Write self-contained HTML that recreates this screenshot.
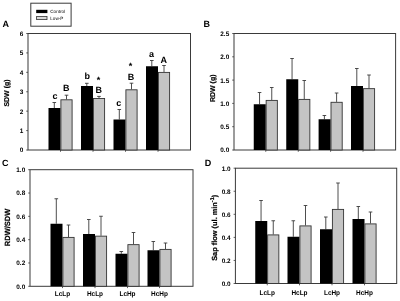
<!DOCTYPE html>
<html><head><meta charset="utf-8"><title>Figure</title>
<style>
html,body{margin:0;padding:0;background:#fff;}
body{width:400px;height:301px;overflow:hidden;font-family:'Liberation Sans', sans-serif;}
svg{display:block;font-family:'Liberation Sans',sans-serif;fill:#000;filter:blur(0.3px);text-rendering:geometricPrecision;}
</style></head><body>
<svg width="400" height="301" viewBox="0 0 400 301">
<rect width="400" height="301" fill="#fff"/>
<g id="panelA">
<rect x="28.0" y="33.5" width="162.50" height="116.50" fill="none" stroke="#3a3a3a" stroke-width="1"/>
<line x1="26.20" y1="150.00" x2="28.00" y2="150.00" stroke="#3a3a3a" stroke-width="0.8"/>
<text x="23.20" y="152.40" font-size="6.4" font-weight="bold" text-anchor="end">0</text>
<line x1="26.20" y1="130.58" x2="28.00" y2="130.58" stroke="#3a3a3a" stroke-width="0.8"/>
<text x="23.20" y="132.98" font-size="6.4" font-weight="bold" text-anchor="end">1</text>
<line x1="26.20" y1="111.17" x2="28.00" y2="111.17" stroke="#3a3a3a" stroke-width="0.8"/>
<text x="23.20" y="113.57" font-size="6.4" font-weight="bold" text-anchor="end">2</text>
<line x1="26.20" y1="91.75" x2="28.00" y2="91.75" stroke="#3a3a3a" stroke-width="0.8"/>
<text x="23.20" y="94.15" font-size="6.4" font-weight="bold" text-anchor="end">3</text>
<line x1="26.20" y1="72.33" x2="28.00" y2="72.33" stroke="#3a3a3a" stroke-width="0.8"/>
<text x="23.20" y="74.73" font-size="6.4" font-weight="bold" text-anchor="end">4</text>
<line x1="26.20" y1="52.92" x2="28.00" y2="52.92" stroke="#3a3a3a" stroke-width="0.8"/>
<text x="23.20" y="55.32" font-size="6.4" font-weight="bold" text-anchor="end">5</text>
<line x1="26.20" y1="33.50" x2="28.00" y2="33.50" stroke="#3a3a3a" stroke-width="0.8"/>
<text x="23.20" y="35.90" font-size="6.4" font-weight="bold" text-anchor="end">6</text>
<line x1="60.50" y1="150.00" x2="60.50" y2="151.80" stroke="#3a3a3a" stroke-width="0.8"/>
<line x1="93.00" y1="150.00" x2="93.00" y2="151.80" stroke="#3a3a3a" stroke-width="0.8"/>
<line x1="125.50" y1="150.00" x2="125.50" y2="151.80" stroke="#3a3a3a" stroke-width="0.8"/>
<line x1="158.00" y1="150.00" x2="158.00" y2="151.80" stroke="#3a3a3a" stroke-width="0.8"/>
<path d="M54.30 108.00V102.50M52.50 102.50H56.10" stroke="#3a3a3a" stroke-width="0.9" fill="none"/>
<path d="M66.50 99.40V95.20M64.70 95.20H68.30" stroke="#3a3a3a" stroke-width="0.9" fill="none"/>
<rect x="48.50" y="108.00" width="12.00" height="42.00" fill="#000"/>
<rect x="60.90" y="99.80" width="11.20" height="50.20" fill="#c4c4c4" stroke="#333333" stroke-width="0.9"/>
<path d="M86.80 86.00V83.30M85.00 83.30H88.60" stroke="#3a3a3a" stroke-width="0.9" fill="none"/>
<path d="M99.00 98.10V96.40M97.20 96.40H100.80" stroke="#3a3a3a" stroke-width="0.9" fill="none"/>
<rect x="81.00" y="86.00" width="12.00" height="64.00" fill="#000"/>
<rect x="93.40" y="98.50" width="11.20" height="51.50" fill="#c4c4c4" stroke="#333333" stroke-width="0.9"/>
<path d="M119.30 119.50V109.50M117.50 109.50H121.10" stroke="#3a3a3a" stroke-width="0.9" fill="none"/>
<path d="M131.50 89.40V83.20M129.70 83.20H133.30" stroke="#3a3a3a" stroke-width="0.9" fill="none"/>
<rect x="113.50" y="119.50" width="12.00" height="30.50" fill="#000"/>
<rect x="125.90" y="89.80" width="11.20" height="60.20" fill="#c4c4c4" stroke="#333333" stroke-width="0.9"/>
<path d="M151.80 66.25V60.50M150.00 60.50H153.60" stroke="#3a3a3a" stroke-width="0.9" fill="none"/>
<path d="M164.00 72.00V65.50M162.20 65.50H165.80" stroke="#3a3a3a" stroke-width="0.9" fill="none"/>
<rect x="146.00" y="66.25" width="12.00" height="83.75" fill="#000"/>
<rect x="158.40" y="72.40" width="11.20" height="77.60" fill="#c4c4c4" stroke="#333333" stroke-width="0.9"/>
</g>
<g id="panelB">
<rect x="234.0" y="33.5" width="161.60" height="116.50" fill="none" stroke="#3a3a3a" stroke-width="1"/>
<line x1="232.20" y1="150.00" x2="234.00" y2="150.00" stroke="#3a3a3a" stroke-width="0.8"/>
<text x="229.20" y="152.40" font-size="6.4" font-weight="bold" text-anchor="end">0.0</text>
<line x1="232.20" y1="126.70" x2="234.00" y2="126.70" stroke="#3a3a3a" stroke-width="0.8"/>
<text x="229.20" y="129.10" font-size="6.4" font-weight="bold" text-anchor="end">0.5</text>
<line x1="232.20" y1="103.40" x2="234.00" y2="103.40" stroke="#3a3a3a" stroke-width="0.8"/>
<text x="229.20" y="105.80" font-size="6.4" font-weight="bold" text-anchor="end">1.0</text>
<line x1="232.20" y1="80.10" x2="234.00" y2="80.10" stroke="#3a3a3a" stroke-width="0.8"/>
<text x="229.20" y="82.50" font-size="6.4" font-weight="bold" text-anchor="end">1.5</text>
<line x1="232.20" y1="56.80" x2="234.00" y2="56.80" stroke="#3a3a3a" stroke-width="0.8"/>
<text x="229.20" y="59.20" font-size="6.4" font-weight="bold" text-anchor="end">2.0</text>
<line x1="232.20" y1="33.50" x2="234.00" y2="33.50" stroke="#3a3a3a" stroke-width="0.8"/>
<text x="229.20" y="35.90" font-size="6.4" font-weight="bold" text-anchor="end">2.5</text>
<line x1="265.75" y1="150.00" x2="265.75" y2="151.80" stroke="#3a3a3a" stroke-width="0.8"/>
<line x1="298.25" y1="150.00" x2="298.25" y2="151.80" stroke="#3a3a3a" stroke-width="0.8"/>
<line x1="330.60" y1="150.00" x2="330.60" y2="151.80" stroke="#3a3a3a" stroke-width="0.8"/>
<line x1="363.00" y1="150.00" x2="363.00" y2="151.80" stroke="#3a3a3a" stroke-width="0.8"/>
<path d="M259.55 104.25V92.50M257.75 92.50H261.35" stroke="#3a3a3a" stroke-width="0.9" fill="none"/>
<path d="M271.75 100.00V87.50M269.95 87.50H273.55" stroke="#3a3a3a" stroke-width="0.9" fill="none"/>
<rect x="253.75" y="104.25" width="12.00" height="45.75" fill="#000"/>
<rect x="266.15" y="100.40" width="11.20" height="49.60" fill="#c4c4c4" stroke="#333333" stroke-width="0.9"/>
<path d="M292.05 79.25V58.50M290.25 58.50H293.85" stroke="#3a3a3a" stroke-width="0.9" fill="none"/>
<path d="M304.25 99.00V80.50M302.45 80.50H306.05" stroke="#3a3a3a" stroke-width="0.9" fill="none"/>
<rect x="286.25" y="79.25" width="12.00" height="70.75" fill="#000"/>
<rect x="298.65" y="99.40" width="11.20" height="50.60" fill="#c4c4c4" stroke="#333333" stroke-width="0.9"/>
<path d="M324.40 119.25V115.50M322.60 115.50H326.20" stroke="#3a3a3a" stroke-width="0.9" fill="none"/>
<path d="M336.60 101.90V93.00M334.80 93.00H338.40" stroke="#3a3a3a" stroke-width="0.9" fill="none"/>
<rect x="318.60" y="119.25" width="12.00" height="30.75" fill="#000"/>
<rect x="331.00" y="102.30" width="11.20" height="47.70" fill="#c4c4c4" stroke="#333333" stroke-width="0.9"/>
<path d="M356.80 86.00V68.50M355.00 68.50H358.60" stroke="#3a3a3a" stroke-width="0.9" fill="none"/>
<path d="M369.00 88.25V75.00M367.20 75.00H370.80" stroke="#3a3a3a" stroke-width="0.9" fill="none"/>
<rect x="351.00" y="86.00" width="12.00" height="64.00" fill="#000"/>
<rect x="363.40" y="88.65" width="11.20" height="61.35" fill="#c4c4c4" stroke="#333333" stroke-width="0.9"/>
</g>
<g id="panelC">
<rect x="30.0" y="169.7" width="163.00" height="116.60" fill="none" stroke="#3a3a3a" stroke-width="1"/>
<line x1="28.20" y1="286.30" x2="30.00" y2="286.30" stroke="#3a3a3a" stroke-width="0.8"/>
<text x="25.20" y="288.70" font-size="6.4" font-weight="bold" text-anchor="end">0.0</text>
<line x1="28.20" y1="262.98" x2="30.00" y2="262.98" stroke="#3a3a3a" stroke-width="0.8"/>
<text x="25.20" y="265.38" font-size="6.4" font-weight="bold" text-anchor="end">0.2</text>
<line x1="28.20" y1="239.66" x2="30.00" y2="239.66" stroke="#3a3a3a" stroke-width="0.8"/>
<text x="25.20" y="242.06" font-size="6.4" font-weight="bold" text-anchor="end">0.4</text>
<line x1="28.20" y1="216.34" x2="30.00" y2="216.34" stroke="#3a3a3a" stroke-width="0.8"/>
<text x="25.20" y="218.74" font-size="6.4" font-weight="bold" text-anchor="end">0.6</text>
<line x1="28.20" y1="193.02" x2="30.00" y2="193.02" stroke="#3a3a3a" stroke-width="0.8"/>
<text x="25.20" y="195.42" font-size="6.4" font-weight="bold" text-anchor="end">0.8</text>
<line x1="28.20" y1="169.70" x2="30.00" y2="169.70" stroke="#3a3a3a" stroke-width="0.8"/>
<text x="25.20" y="172.10" font-size="6.4" font-weight="bold" text-anchor="end">1.0</text>
<line x1="62.50" y1="286.30" x2="62.50" y2="288.10" stroke="#3a3a3a" stroke-width="0.8"/>
<line x1="95.00" y1="286.30" x2="95.00" y2="288.10" stroke="#3a3a3a" stroke-width="0.8"/>
<line x1="127.50" y1="286.30" x2="127.50" y2="288.10" stroke="#3a3a3a" stroke-width="0.8"/>
<line x1="159.50" y1="286.30" x2="159.50" y2="288.10" stroke="#3a3a3a" stroke-width="0.8"/>
<path d="M56.30 223.75V198.75M54.50 198.75H58.10" stroke="#3a3a3a" stroke-width="0.9" fill="none"/>
<path d="M68.50 237.00V225.00M66.70 225.00H70.30" stroke="#3a3a3a" stroke-width="0.9" fill="none"/>
<rect x="50.50" y="223.75" width="12.00" height="62.55" fill="#000"/>
<rect x="62.90" y="237.40" width="11.20" height="48.90" fill="#c4c4c4" stroke="#333333" stroke-width="0.9"/>
<path d="M88.80 234.00V219.50M87.00 219.50H90.60" stroke="#3a3a3a" stroke-width="0.9" fill="none"/>
<path d="M101.00 235.75V216.25M99.20 216.25H102.80" stroke="#3a3a3a" stroke-width="0.9" fill="none"/>
<rect x="83.00" y="234.00" width="12.00" height="52.30" fill="#000"/>
<rect x="95.40" y="236.15" width="11.20" height="50.15" fill="#c4c4c4" stroke="#333333" stroke-width="0.9"/>
<path d="M121.30 253.75V251.50M119.50 251.50H123.10" stroke="#3a3a3a" stroke-width="0.9" fill="none"/>
<path d="M133.50 244.25V232.50M131.70 232.50H135.30" stroke="#3a3a3a" stroke-width="0.9" fill="none"/>
<rect x="115.50" y="253.75" width="12.00" height="32.55" fill="#000"/>
<rect x="127.90" y="244.65" width="11.20" height="41.65" fill="#c4c4c4" stroke="#333333" stroke-width="0.9"/>
<path d="M153.30 250.25V241.50M151.50 241.50H155.10" stroke="#3a3a3a" stroke-width="0.9" fill="none"/>
<path d="M165.50 249.00V243.00M163.70 243.00H167.30" stroke="#3a3a3a" stroke-width="0.9" fill="none"/>
<rect x="147.50" y="250.25" width="12.00" height="36.05" fill="#000"/>
<rect x="159.90" y="249.40" width="11.20" height="36.90" fill="#c4c4c4" stroke="#333333" stroke-width="0.9"/>
</g>
<g id="panelD">
<rect x="235.4" y="168.2" width="161.30" height="115.30" fill="none" stroke="#3a3a3a" stroke-width="1"/>
<line x1="233.60" y1="283.50" x2="235.40" y2="283.50" stroke="#3a3a3a" stroke-width="0.8"/>
<text x="230.60" y="285.90" font-size="6.4" font-weight="bold" text-anchor="end">0.0</text>
<line x1="233.60" y1="260.44" x2="235.40" y2="260.44" stroke="#3a3a3a" stroke-width="0.8"/>
<text x="230.60" y="262.84" font-size="6.4" font-weight="bold" text-anchor="end">0.2</text>
<line x1="233.60" y1="237.38" x2="235.40" y2="237.38" stroke="#3a3a3a" stroke-width="0.8"/>
<text x="230.60" y="239.78" font-size="6.4" font-weight="bold" text-anchor="end">0.4</text>
<line x1="233.60" y1="214.32" x2="235.40" y2="214.32" stroke="#3a3a3a" stroke-width="0.8"/>
<text x="230.60" y="216.72" font-size="6.4" font-weight="bold" text-anchor="end">0.6</text>
<line x1="233.60" y1="191.26" x2="235.40" y2="191.26" stroke="#3a3a3a" stroke-width="0.8"/>
<text x="230.60" y="193.66" font-size="6.4" font-weight="bold" text-anchor="end">0.8</text>
<line x1="233.60" y1="168.20" x2="235.40" y2="168.20" stroke="#3a3a3a" stroke-width="0.8"/>
<text x="230.60" y="170.60" font-size="6.4" font-weight="bold" text-anchor="end">1.0</text>
<line x1="267.25" y1="283.50" x2="267.25" y2="285.30" stroke="#3a3a3a" stroke-width="0.8"/>
<line x1="299.50" y1="283.50" x2="299.50" y2="285.30" stroke="#3a3a3a" stroke-width="0.8"/>
<line x1="332.00" y1="283.50" x2="332.00" y2="285.30" stroke="#3a3a3a" stroke-width="0.8"/>
<line x1="364.50" y1="283.50" x2="364.50" y2="285.30" stroke="#3a3a3a" stroke-width="0.8"/>
<path d="M261.05 221.00V200.50M259.25 200.50H262.85" stroke="#3a3a3a" stroke-width="0.9" fill="none"/>
<path d="M273.25 234.50V220.75M271.45 220.75H275.05" stroke="#3a3a3a" stroke-width="0.9" fill="none"/>
<rect x="255.25" y="221.00" width="12.00" height="62.50" fill="#000"/>
<rect x="267.65" y="234.90" width="11.20" height="48.60" fill="#c4c4c4" stroke="#333333" stroke-width="0.9"/>
<path d="M293.30 236.75V220.75M291.50 220.75H295.10" stroke="#3a3a3a" stroke-width="0.9" fill="none"/>
<path d="M305.50 225.50V205.50M303.70 205.50H307.30" stroke="#3a3a3a" stroke-width="0.9" fill="none"/>
<rect x="287.50" y="236.75" width="12.00" height="46.75" fill="#000"/>
<rect x="299.90" y="225.90" width="11.20" height="57.60" fill="#c4c4c4" stroke="#333333" stroke-width="0.9"/>
<path d="M325.80 229.25V217.00M324.00 217.00H327.60" stroke="#3a3a3a" stroke-width="0.9" fill="none"/>
<path d="M338.00 209.00V183.00M336.20 183.00H339.80" stroke="#3a3a3a" stroke-width="0.9" fill="none"/>
<rect x="320.00" y="229.25" width="12.00" height="54.25" fill="#000"/>
<rect x="332.40" y="209.40" width="11.20" height="74.10" fill="#c4c4c4" stroke="#333333" stroke-width="0.9"/>
<path d="M358.30 219.00V206.50M356.50 206.50H360.10" stroke="#3a3a3a" stroke-width="0.9" fill="none"/>
<path d="M370.50 223.50V212.00M368.70 212.00H372.30" stroke="#3a3a3a" stroke-width="0.9" fill="none"/>
<rect x="352.50" y="219.00" width="12.00" height="64.50" fill="#000"/>
<rect x="364.90" y="223.90" width="11.20" height="59.60" fill="#c4c4c4" stroke="#333333" stroke-width="0.9"/>
</g>
<text x="2.6" y="26.7" font-size="9" font-weight="bold">A</text>
<text x="203.6" y="26.6" font-size="9" font-weight="bold">B</text>
<text x="2.0" y="165.9" font-size="9" font-weight="bold">C</text>
<text x="204.8" y="165.8" font-size="9" font-weight="bold">D</text>
<text x="55" y="98.8" font-size="9" font-weight="bold" text-anchor="middle">c</text>
<text x="66.2" y="91" font-size="9" font-weight="bold" text-anchor="middle">B</text>
<text x="87.3" y="79" font-size="9" font-weight="bold" text-anchor="middle">b</text>
<text x="98.8" y="93.2" font-size="9" font-weight="bold" text-anchor="middle">B</text>
<text x="98.5" y="83.2" font-size="9" font-weight="bold" text-anchor="middle">*</text>
<text x="118.8" y="105.6" font-size="9" font-weight="bold" text-anchor="middle">c</text>
<text x="131" y="79.8" font-size="9" font-weight="bold" text-anchor="middle">B</text>
<text x="130.5" y="69.2" font-size="9" font-weight="bold" text-anchor="middle">*</text>
<text x="151.5" y="56.8" font-size="9" font-weight="bold" text-anchor="middle">a</text>
<text x="163.8" y="62.8" font-size="9" font-weight="bold" text-anchor="middle">A</text>
<rect x="30.8" y="3.2" width="40.3" height="23" fill="#fff" stroke="#3a3a3a" stroke-width="1"/>
<rect x="36.2" y="9.8" width="11.2" height="3.3" fill="#000"/>
<rect x="36.6" y="16.5" width="10.4" height="3.1" fill="#d8d8d8" stroke="#333333" stroke-width="0.8"/>
<text x="50.3" y="13.2" font-size="4.6">Control</text>
<text x="50.3" y="19.9" font-size="4.6">Low-P</text>
<text transform="translate(62.5 296.2) scale(0.92 1)" font-size="7" font-weight="bold" text-anchor="middle">LcLp</text>
<text transform="translate(95.0 296.2) scale(0.92 1)" font-size="7" font-weight="bold" text-anchor="middle">HcLp</text>
<text transform="translate(127.5 296.2) scale(0.92 1)" font-size="7" font-weight="bold" text-anchor="middle">LcHp</text>
<text transform="translate(159.5 296.2) scale(0.92 1)" font-size="7" font-weight="bold" text-anchor="middle">HcHp</text>
<text transform="translate(267.25 294.7) scale(0.92 1)" font-size="7" font-weight="bold" text-anchor="middle">LcLp</text>
<text transform="translate(299.5 294.7) scale(0.92 1)" font-size="7" font-weight="bold" text-anchor="middle">HcLp</text>
<text transform="translate(332.0 294.7) scale(0.92 1)" font-size="7" font-weight="bold" text-anchor="middle">LcHp</text>
<text transform="translate(364.5 294.7) scale(0.92 1)" font-size="7" font-weight="bold" text-anchor="middle">HcHp</text>
<text transform="translate(8.8 93) rotate(-90)" font-size="7" font-weight="bold" text-anchor="middle" stroke="#000" stroke-width="0.2">SDW (g)</text>
<text transform="translate(215.4 88.3) rotate(-90)" font-size="7" font-weight="bold" text-anchor="middle" stroke="#000" stroke-width="0.2">RDW (g)</text>
<text transform="translate(9.7 227.4) rotate(-90)" font-size="7.5" font-weight="bold" text-anchor="middle" stroke="#000" stroke-width="0.2">RDW/SDW</text>
<text transform="translate(216.6 227.8) rotate(-90)" font-size="7.4" font-weight="bold" text-anchor="middle" stroke="#000" stroke-width="0.2">Sap flow (ul. min<tspan dy="-3" font-size="5.5">-1</tspan><tspan dy="3">)</tspan></text>
</svg>
</body></html>
